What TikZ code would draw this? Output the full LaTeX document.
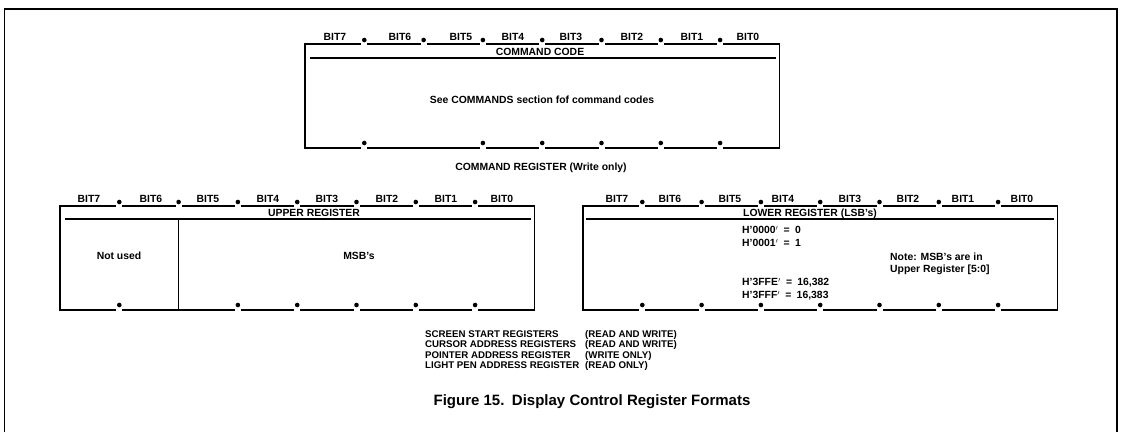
\documentclass[tikz,border=0pt]{standalone}
\usepackage{fontspec}
\setmainfont{Liberation Sans}
\usetikzlibrary{positioning}

\begin{document}
\begin{tikzpicture}[
    x=1pt, y=-1pt,
    regline/.style={line width=1.2pt},
    framebox/.style={line width=1.5pt},
    bitdot/.style={circle, fill=black, inner sep=0pt, minimum size=4.6pt},
    bitgap/.style={fill=white},
    reglabel/.style={inner sep=0pt, font=\bfseries\fontsize{10.4}{12}\selectfont,
        text height=7.5pt, text depth=0pt},
    hextext/.style={reglabel, anchor=west},
    listtext/.style={reglabel, anchor=west, font=\bfseries\fontsize{9.7}{12}\selectfont},
    captiontext/.style={inner sep=0pt, font=\bfseries\fontsize{15}{18}\selectfont,
        text height=10.8pt, text depth=0pt}
]
\useasboundingbox (0,0) rectangle (1122,432);

% outer frame (open at the bottom)
\draw[framebox] (4.5,432) -- (4.5,9) -- (1117,9) -- (1117,432);

% command register
\draw[regline] (305,44) rectangle (779.4,148);
\draw[regline] (310,58) -- (776,58);
\foreach \i in {1,...,7} {
    \fill[bitgap] ({305+\i*59.3-3},42) rectangle +(6,4);
    \node[bitdot] (ctop\i) at ({305+\i*59.3},40) {};
}
\foreach \i in {1,3,4,5,6,7} {
    \fill[bitgap] ({305+\i*59.3-3},146) rectangle +(6,4);
    \node[bitdot] (cbot\i) at ({305+\i*59.3},143) {};
}
\foreach \b/\x in {7/335,6/400,5/461,4/513,3/571,2/632,1/692,0/748}
    \node[reglabel] (cbit\b) at (\x,36.5) {BIT\b};
\node[reglabel] (cmdcode) at (540,51.5) {COMMAND CODE};
\node[reglabel] (cmdsee) at (542,100) {See COMMANDS section fof command codes};
\node[reglabel] (cmdreg) at (541,167) {COMMAND REGISTER (Write only)};

% upper register
\draw[regline] (60,206) rectangle (534.4,310);
\draw[regline] (65,219) -- (531,219);
\draw[regline] (178.6,219) -- (178.6,310);
\foreach \i in {1,...,7} {
    \fill[bitgap] ({60+\i*59.3-3},204) rectangle +(6,4);
    \node[bitdot] (utop\i) at ({60+\i*59.3},202) {};
}
\foreach \i in {1,3,4,5,6,7} {
    \fill[bitgap] ({60+\i*59.3-3},308) rectangle +(6,4);
    \node[bitdot] (ubot\i) at ({60+\i*59.3},305) {};
}
\foreach \b/\x in {7/89,6/151,5/208,4/268,3/327,2/387,1/446,0/502}
    \node[reglabel] (ubit\b) at (\x,198.5) {BIT\b};
\node[reglabel] (upptitle) at (314,213) {UPPER REGISTER};
\node[reglabel] (notused) at (119,256) {Not used};
\node[reglabel] (msbs) at (359,256) {MSB's};

% lower register
\draw[regline] (583,206) rectangle (1057.4,310);
\draw[regline] (586,219) -- (1054,219);
\foreach \i in {1,...,7} {
    \fill[bitgap] ({583+\i*59.3-3},204) rectangle +(6,4);
    \node[bitdot] (ltop\i) at ({583+\i*59.3},202) {};
    \fill[bitgap] ({583+\i*59.3-3},308) rectangle +(6,4);
    \node[bitdot] (lbot\i) at ({583+\i*59.3},305) {};
}
\foreach \b/\x in {7/617,6/670,5/730,4/783,3/850,2/908,1/963,0/1022}
    \node[reglabel] (lbit\b) at (\x,198.5) {BIT\b};
\node[reglabel] (lowtitle) at (810,213) {LOWER REGISTER (LSB's)};
\node[hextext] (hexa) at (742,230) {H'0000$'$\enspace=\enspace0};
\node[hextext] (hexb) at (742,243) {H'0001$'$\enspace=\enspace1};
\node[hextext] (hexe) at (742,282) {H'3FFE$'$\enspace=\enspace16,382};
\node[hextext] (hexf) at (742,295) {H'3FFF$'$\enspace=\enspace16,383};
\node[hextext] (notea) at (890,257) {Note: MSB's are in};
\node[hextext] (noteb) at (890,269) {Upper Register [5:0]};

% register list
\node[listtext] (scrn) at (425,333.5) {SCREEN START REGISTERS};
\node[listtext] (scrnrw) at (585,333.5) {(READ AND WRITE)};
\node[listtext] (curs) at (425,344) {CURSOR ADDRESS REGISTERS};
\node[listtext] (cursrw) at (585,344) {(READ AND WRITE)};
\node[listtext] (pntr) at (425,354.5) {POINTER ADDRESS REGISTER};
\node[listtext] (pntrw) at (585,354.5) {(WRITE ONLY)};
\node[listtext] (lpen) at (425,365) {LIGHT PEN ADDRESS REGISTER};
\node[listtext] (lpenr) at (585,365) {(READ ONLY)};

% caption
\node[captiontext] (caption) at (592,400) {Figure 15.\enspace Display Control Register Formats};

\end{tikzpicture}
\end{document}
